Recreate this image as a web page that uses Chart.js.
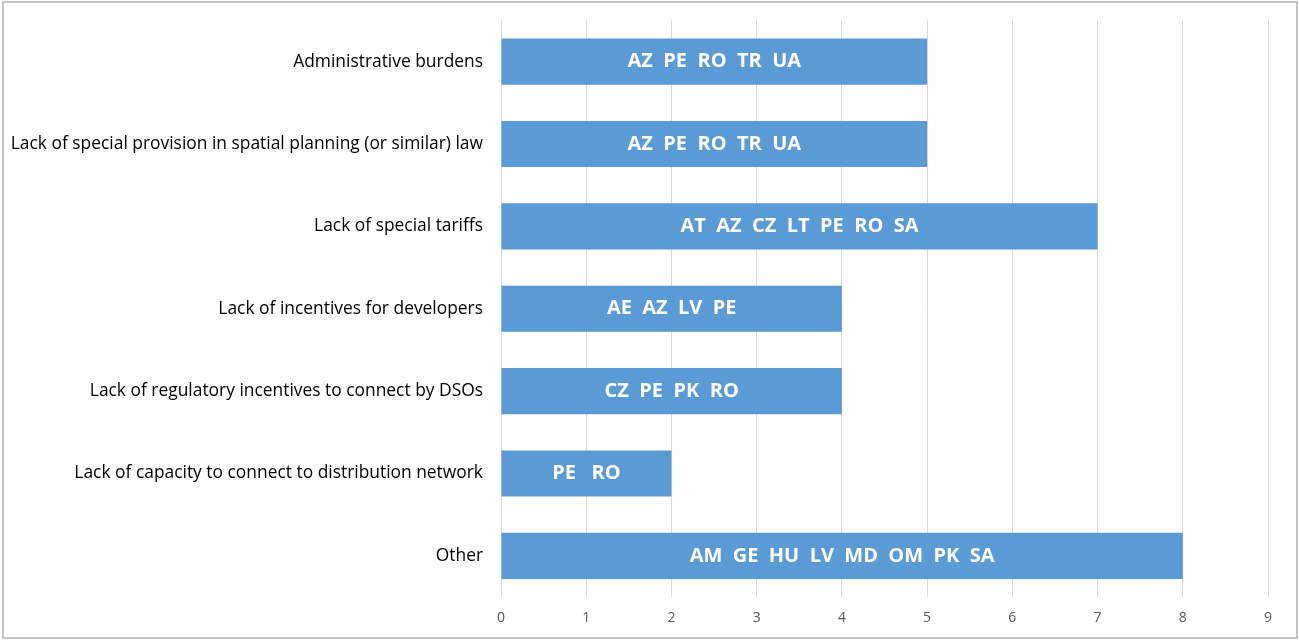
<!DOCTYPE html>
<html>
<head>
<meta charset="utf-8">
<script src="https://cdn.jsdelivr.net/npm/chart.js@4"></script>
<style>
  html, body { margin: 0; padding: 0; background: #fff; }
  #wrap { position: absolute; left: 0; top: 0; width: 1299px; height: 640px; }
  #frame { position: absolute; left: 2px; top: 1px; width: 1292px; height: 634px; border: 2px solid #c4c4c4; pointer-events: none; }
</style>
</head>
<body>
<div id="wrap"><canvas id="grafico" width="1299" height="640"></canvas></div>
<div id="frame"></div>
<script>
const categorias = [
    'Administrative burdens',
    'Lack of special provision in spatial planning (or similar) law',
    'Lack of special tariffs',
    'Lack of incentives for developers',
    'Lack of regulatory incentives to connect by DSOs',
    'Lack of capacity to connect to distribution network',
    'Other'
];
const valores = [5, 5, 7, 4, 4, 2, 8];
const paises = [
    'AZ  PE  RO  TR  UA',
    'AZ  PE  RO  TR  UA',
    'AT  AZ  CZ  LT  PE  RO  SA',
    'AE  AZ  LV  PE',
    'CZ  PE  PK  RO',
    'PE   RO',
    'AM  GE  HU  LV  MD  OM  PK  SA'
];
const ticksX = [0, 1, 2, 3, 4, 5, 6, 7, 8, 9];

// escribe los paises dentro de cada barra
const etiquetasBarras = {
    id: 'etiquetasBarras',
    afterDatasetsDraw(chart) {
        const ctx = chart.ctx;
        const meta = chart.getDatasetMeta(0);
        ctx.save();
        ctx.fillStyle = '#ffffff';
        ctx.font = 'bold 20px "Open Sans"';
        ctx.textAlign = 'center';
        ctx.textBaseline = 'middle';
        meta.data.forEach((bar, i) => {
            const centro = (bar.x + bar.base) / 2;
            ctx.fillText(paises[i], centro, bar.y);
        });
        ctx.restore();
    }
};

const ctx = document.getElementById('grafico').getContext('2d');
new Chart(ctx, {
    type: 'bar',
    data: {
        labels: categorias,
        datasets: [{
            data: valores,
            backgroundColor: '#5b9bd5',
            borderWidth: 0,
            barPercentage: 0.56,
            categoryPercentage: 1
        }]
    },
    options: {
        indexAxis: 'y',
        responsive: false,
        animation: false,
        layout: { padding: { top: 18, right: 31, bottom: 0, left: 0 } },
        plugins: {
            legend: { display: false },
            tooltip: { enabled: false }
        },
        scales: {
            x: {
                min: 0,
                max: 9,
                afterBuildTicks: (scale) => { scale.ticks = ticksX.map(v => ({ value: v })); },
                afterFit: (scale) => { scale.height = 43; },
                grid: { color: '#d9d9d9', lineWidth: 1, drawTicks: false },
                border: { display: false },
                ticks: { color: '#595959', font: { family: 'Open Sans', size: 14 }, padding: 13 }
            },
            y: {
                afterFit: (scale) => { scale.width = 501; },
                grid: { display: false },
                border: { display: false },
                ticks: { color: '#000000', font: { family: 'Open Sans', size: 17.4 }, padding: 10 }
            }
        }
    },
    plugins: [etiquetasBarras]
});
</script>
</body>
</html>
